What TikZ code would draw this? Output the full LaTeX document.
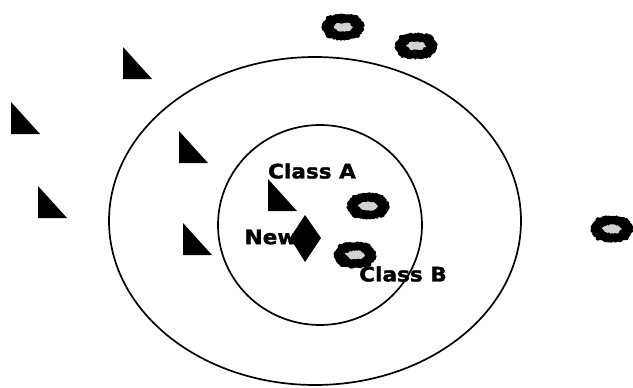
\documentclass[tikz,border=0pt]{standalone}
\usepackage{fontspec}
\newfontfamily\lblfont{DejaVu Sans Bold}[FakeStretch=1.08, FakeBold=1.5]
\usetikzlibrary{positioning, decorations.pathmorphing}

\tikzset{
  lbl/.style={font=\lblfont\fontsize{20}{24}\selectfont, inner sep=0pt},
  ring/.style={line width=1.7pt},
  fuzz/.style={decorate, decoration={random steps, segment length=1.5pt, amplitude=0.8pt}},
}
% class A sample: right triangle, top-left corner given
\newcommand{\sampleA}[2]{\fill (#1,#2) -- ++(0,32) -- ++(29,0) -- cycle;}
% class B sample: dark fuzzy blob with a light core
\newcommand{\sampleB}[2]{%
  \begin{scope}[shift={(#1,#2)}]
    \fill[fuzz] (-21,-3) -- (-15,-11) -- (-5,-13) -- (5,-13) -- (15,-11) -- (21,-3)
      -- (21,3) -- (15,11) -- (5,13) -- (-5,13) -- (-15,11) -- (-21,3) -- cycle;
    \fill[fuzz, gray!35] (-10,-1) -- (-5,-4) -- (6,-4) -- (10,0) -- (6,4) -- (-5,4) -- cycle;
  \end{scope}}

\begin{document}
\begin{tikzpicture}[x=1pt, y=-1pt]
    \useasboundingbox (0,0) rectangle (633,388);

    % neighbourhoods
    \draw[ring] (315,221) ellipse (206 and 164);
    \draw[ring] (320,225) ellipse (102 and 100);

    % labels
    \node[lbl] (classA) at (312,171) {Class A};
    \node[lbl] (new) at (271,237) {New};
    \node[lbl] (classB) at (403,274) {Class B};

    % class A
    \sampleA{123}{47}
    \sampleA{11}{102}
    \sampleA{179}{131}
    \sampleA{38}{186}
    \sampleA{183}{223}
    \sampleA{268}{179}

    % class B
    \sampleB{343}{27}
    \sampleB{416}{46}
    \sampleB{368}{206}
    \sampleB{355}{255}
    \sampleB{612}{229}

    % new point
    \fill (305,215) -- (321,238) -- (305,262) -- (290,238) -- cycle;
\end{tikzpicture}
\end{document}
